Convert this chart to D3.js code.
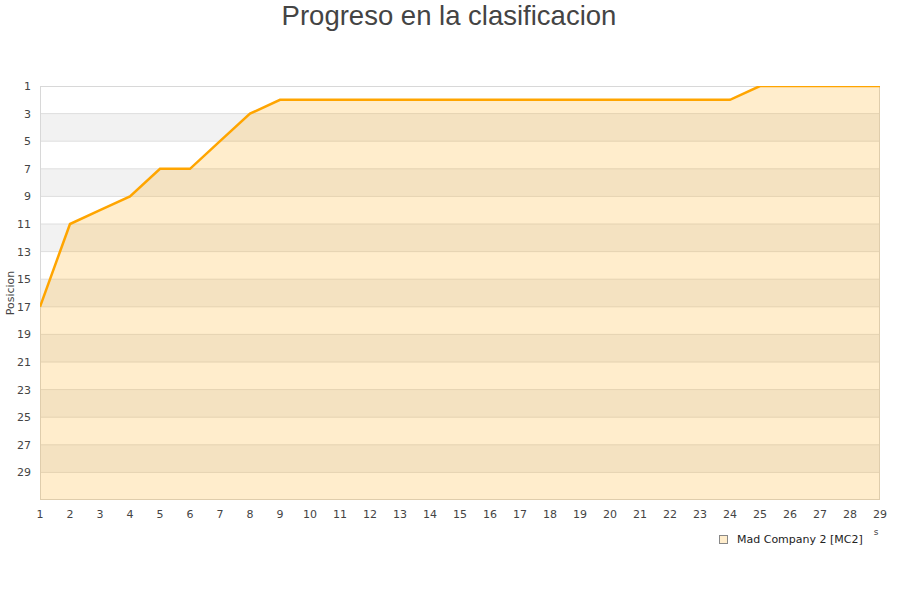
<!DOCTYPE html>
<html>
<head>
<meta charset="utf-8">
<script src="https://cdn.jsdelivr.net/npm/d3@7"></script>
<style>
  body { margin: 0; background: #fff; }
  text { font-family: "DejaVu Sans", sans-serif; }
</style>
</head>
<body>
<div id="chart"></div>
<script>
// datos del grafico
var jornadas = [1,2,3,4,5,6,7,8,9,10,11,12,13,14,15,16,17,18,19,20,21,22,23,24,25,26,27,28,29];
var posiciones = [17,11,10,9,7,7,5,3,2,2,2,2,2,2,2,2,2,2,2,2,2,2,2,2,1,1,1,1,1];
var yTicks = [1,3,5,7,9,11,13,15,17,19,21,23,25,27,29];
var titulo = "Progreso en la clasificacion";
var serieNombre = "Mad Company 2 [MC2]";

var width = 900, height = 600;
var pLeft = 40, pRight = 880, pTop = 86, pBottom = 500;

var svg = d3.select('#chart').append('svg')
  .attr('width', width)
  .attr('height', height);

var x = d3.scaleLinear().domain([1, 29]).range([pLeft, pRight]);
var y = d3.scaleLinear().domain([1, 31]).range([pTop, pBottom]);

// bandas alternas de fondo
var bandas = d3.range(1, 31, 2);
svg.selectAll('.banda')
  .data(bandas).enter()
  .append('rect')
    .attr('x', pLeft)
    .attr('y', function(d){ return y(d); })
    .attr('width', pRight - pLeft)
    .attr('height', function(d){ return y(d + 2) - y(d); })
    .style('fill', function(d, i){ return i % 2 ? '#f2f2f2' : '#fff'; });

// lineas de la cuadricula
svg.selectAll('.grid')
  .data(yTicks.slice(1)).enter()
  .append('line')
    .attr('x1', pLeft).attr('x2', pRight)
    .attr('y1', function(d){ return y(d); })
    .attr('y2', function(d){ return y(d); })
    .style('stroke', '#dedede')
    .style('stroke-width', 1);

svg.append('clipPath').attr('id', 'clip')
  .append('rect')
    .attr('x', pLeft).attr('y', pTop)
    .attr('width', pRight - pLeft).attr('height', pBottom - pTop);

var datos = jornadas.map(function(j, i){ return {x: j, y: posiciones[i]}; });

var area = d3.area()
  .x(function(d){ return x(d.x); })
  .y0(pBottom)
  .y1(function(d){ return y(d.y); });

var linea = d3.line()
  .x(function(d){ return x(d.x); })
  .y(function(d){ return y(d.y); });

// borde del area de dibujo
svg.append('rect')
  .attr('x', pLeft + 0.5).attr('y', pTop + 0.5)
  .attr('width', pRight - pLeft - 1).attr('height', pBottom - pTop - 1)
  .style('fill', 'none')
  .style('stroke', '#d8d8d8')
  .style('stroke-width', 1);

var g = svg.append('g').attr('clip-path', 'url(#clip)');

g.append('path')
  .datum(datos)
  .attr('d', area)
  .style('fill', '#ffa500')
  .style('opacity', 0.2);

g.append('path')
  .datum(datos)
  .attr('d', linea)
  .style('fill', 'none')
  .style('stroke', '#ffa500')
  .style('stroke-width', 2.5);

// etiquetas eje y
svg.selectAll('.ytick')
  .data(yTicks).enter()
  .append('text')
    .attr('x', 31)
    .attr('y', function(d){ return y(d) + 4; })
    .attr('text-anchor', 'end')
    .style('font-size', '11px')
    .style('fill', '#444')
    .text(function(d){ return d; });

// etiquetas eje x
svg.selectAll('.xtick')
  .data(jornadas).enter()
  .append('text')
    .attr('x', function(d){ return x(d); })
    .attr('y', 518)
    .attr('text-anchor', 'middle')
    .style('font-size', '11px')
    .style('fill', '#444')
    .text(function(d){ return d; });

// titulo
svg.append('text')
  .attr('x', 449)
  .attr('y', 25)
  .attr('text-anchor', 'middle')
  .style('font-family', '"Liberation Sans", Arial, sans-serif')
  .style('font-size', '27.5px')
  .style('fill', '#444')
  .text(titulo);

// titulo eje y
svg.append('text')
  .attr('transform', 'translate(14,293) rotate(-90)')
  .attr('text-anchor', 'middle')
  .style('font-size', '11px')
  .style('fill', '#444')
  .text('Posicion');

// resto del titulo eje x
svg.append('text')
  .attr('x', 876)
  .attr('y', 535)
  .attr('text-anchor', 'middle')
  .style('font-size', '9px')
  .style('fill', '#444')
  .text('s');

// leyenda
svg.append('rect')
  .attr('x', 719.5).attr('y', 535.5)
  .attr('width', 8).attr('height', 8)
  .style('fill', '#ffedcc')
  .style('stroke', '#888')
  .style('stroke-width', 1);

svg.append('text')
  .attr('x', 737)
  .attr('y', 543)
  .style('font-size', '11px')
  .style('fill', '#222')
  .text(serieNombre);
</script>
</body>
</html>
